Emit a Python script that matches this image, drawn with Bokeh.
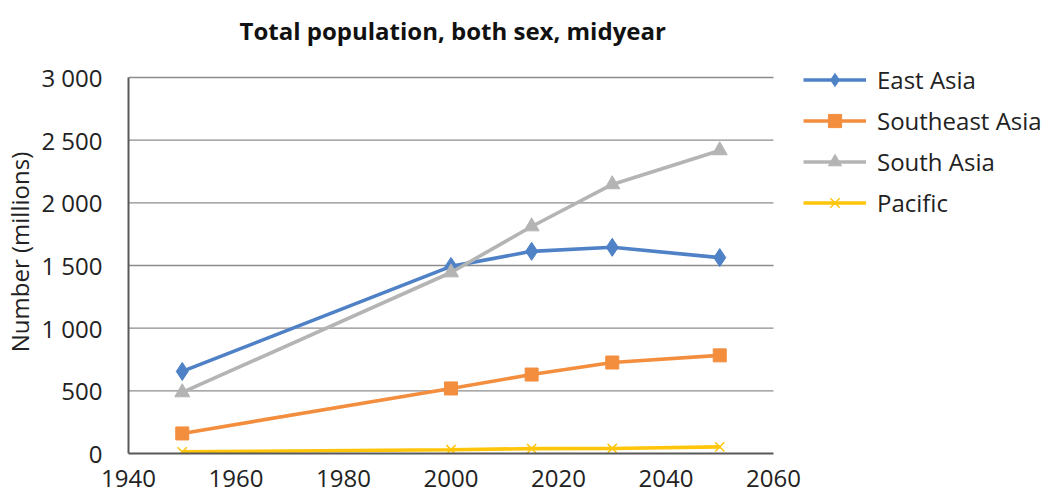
from bokeh.plotting import figure
from bokeh.models import Legend, LegendItem, FixedTicker
from bokeh.embed import file_html
from bokeh.resources import INLINE

years = [1950, 2000, 2015, 2030, 2050]
east_asia = [655, 1493, 1613, 1645, 1563]
southeast_asia = [160, 519, 630, 726, 783]
south_asia = [487, 1444, 1811, 2147, 2418]
pacific = [13, 30, 39, 40, 53]

series_names = ["East Asia", "Southeast Asia", "South Asia", "Pacific"]
colors = ["#4F81C6", "#F38E3F", "#B4B4B4", "#FFC50A"]
y_ticks = [0, 500, 1000, 1500, 2000, 2500, 3000]
y_tick_labels = ["0", "500", "1 000", "1 500", "2 000", "2 500", "3 000"]
x_ticks = [1940, 1960, 1980, 2000, 2020, 2040, 2060]

FONT = "Open Sans"

# Frame is widened to the right (and upward) so the legend can sit inside it;
# the axes and grid lines are bounded to the data area 1940-2060 / 0-3000.
LEFT, BOTTOM, TOP = 128, 39, 50
W, H = 1044, 492
frame_w = W - LEFT
frame_h = H - BOTTOM - TOP
px_per_year = 645 / (x_ticks[-1] - x_ticks[0])
px_per_unit = 376 / y_ticks[-1]
x_end = x_ticks[0] + frame_w / px_per_year
y_end = frame_h / px_per_unit

p = figure(width=W, height=H, output_backend="svg", toolbar_location=None,
           x_range=(x_ticks[0], x_end), y_range=(0, y_end),
           min_border_left=LEFT, min_border_right=0, min_border_top=TOP, min_border_bottom=BOTTOM)
p.outline_line_color = None
p.background_fill_color = "white"

p.title.text = "Total population, both sex, midyear"
p.title.text_font = FONT
p.title.text_font_size = "24px"
p.title.text_font_style = "bold"
p.title.align = "left"
p.title.text_color = "#111111"
p.title.standoff = 7
p.title.offset = 111

p.xgrid.grid_line_color = None
p.ygrid.grid_line_color = None

# horizontal grid lines limited to the data area
p.segment(x0=[x_ticks[0]] * (len(y_ticks) - 1), x1=[x_ticks[-1]] * (len(y_ticks) - 1),
          y0=y_ticks[1:], y1=y_ticks[1:], line_color="#8C8C8C", line_width=1.3)

for ax in (p.xaxis[0], p.yaxis[0]):
    ax.axis_line_color = "#595959"
    ax.axis_line_width = 2
    ax.major_tick_line_color = None
    ax.minor_tick_line_color = None
    ax.major_label_text_font = FONT
    ax.major_label_text_font_size = "24px"
    ax.major_label_text_color = "#222222"

p.xaxis.ticker = FixedTicker(ticks=x_ticks)
p.xaxis.bounds = (x_ticks[0], x_ticks[-1])
p.xaxis.major_label_standoff = 10
p.yaxis.ticker = FixedTicker(ticks=y_ticks)
p.yaxis.bounds = (y_ticks[0], y_ticks[-1])
p.yaxis.major_label_overrides = {t: l for t, l in zip(y_ticks, y_tick_labels)}
p.yaxis.major_label_standoff = 20
p.yaxis.axis_label = "Number (millions)"
p.yaxis.axis_label_text_font = FONT
p.yaxis.axis_label_text_font_size = "24px"
p.yaxis.axis_label_text_font_style = "normal"
p.yaxis.axis_label_text_color = "#222222"
p.yaxis.axis_label_standoff = 2

data = [east_asia, southeast_asia, south_asia, pacific]
items = []
for name, vals, c in zip(series_names, data, colors):
    ln = p.line(years, vals, line_color=c, line_width=3.6)
    if name == "East Asia":
        mk = p.scatter(years, vals, marker="diamond", size=18, fill_color=c, line_color=c)
    elif name == "Southeast Asia":
        mk = p.scatter(years, vals, marker="square", size=13, fill_color=c, line_color=c)
    elif name == "South Asia":
        mk = p.scatter(years, vals, marker="triangle", size=15, fill_color=c, line_color=c)
    else:
        mk = p.scatter(years, vals, marker="x", size=13, line_color=c, line_width=1.5)
    items.append(LegendItem(label=name, renderers=[ln, mk]))

legend = Legend(items=items, location=(675, 234), padding=0, margin=0,
                border_line_color=None, background_fill_alpha=0,
                glyph_width=63, glyph_height=33, label_height=33, spacing=8,
                label_standoff=11, label_text_font=FONT, label_text_font_size="24px",
                label_text_color="#222222")
p.add_layout(legend, "center")

open("out.html", "w").write(file_html(p, INLINE))
